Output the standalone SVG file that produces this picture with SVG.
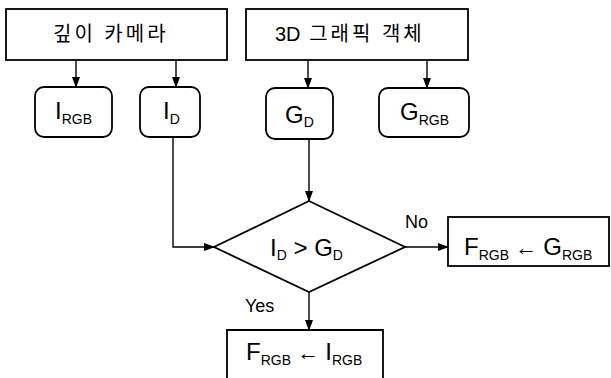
<svg xmlns="http://www.w3.org/2000/svg" width="611" height="378" viewBox="0 0 611 378">
<defs>
<marker id="ah" markerWidth="11" markerHeight="10" refX="10" refY="5" orient="auto" markerUnits="userSpaceOnUse">
<path d="M0,1 L11,5 L0,9 Z" fill="#000"/>
</marker>
</defs>
<style>
.box{fill:#fff;stroke:#000;stroke-width:1.8}
.ln{fill:none;stroke:#000;stroke-width:1.4;marker-end:url(#ah)}
.t{font-family:"Liberation Sans","Noto Sans CJK KR",Arial,sans-serif;font-size:24px;fill:#000}
.k{font-family:"Liberation Sans","Noto Sans CJK KR",sans-serif;font-size:20px;fill:#000;letter-spacing:3px}
.n{letter-spacing:0}
.s{font-size:14px}
.l{font-family:"Liberation Sans",Arial,sans-serif;font-size:18px;fill:#000}
</style>
<rect width="611" height="378" fill="#fff"/>
<g id="connectors">
<line class="ln" x1="76" y1="60" x2="76" y2="87"/>
<line class="ln" x1="176" y1="60" x2="176" y2="87"/>
<line class="ln" x1="308" y1="60" x2="308" y2="88"/>
<line class="ln" x1="427" y1="60" x2="427" y2="88"/>
<polyline class="ln" points="173,137 173,247 214,247"/>
<line class="ln" x1="309" y1="139" x2="309" y2="201"/>
<line class="ln" x1="405" y1="247" x2="448" y2="247"/>
<line class="ln" x1="309" y1="292" x2="309" y2="330"/>
</g>
<g id="depth-camera">
<rect class="box" x="6" y="9" width="221" height="51"/>
<text class="k" x="53" y="41">깊이 카메라</text>
</g>
<g id="graphic-object">
<rect class="box" x="246" y="9" width="222" height="51"/>
<text class="k" x="275" y="41"><tspan class="n">3D</tspan> 그래픽 객체</text>
</g>
<g id="i-rgb">
<rect class="box" x="35" y="87" width="77" height="50" rx="9"/>
<text class="t" x="55" y="119">I<tspan class="s" dy="5">RGB</tspan></text>
</g>
<g id="i-d">
<rect class="box" x="140" y="87" width="60" height="50" rx="9"/>
<text class="t" x="163" y="119">I<tspan class="s" dy="5">D</tspan></text>
</g>
<g id="g-d">
<rect class="box" x="266" y="88" width="67" height="51" rx="9"/>
<text class="t" x="285" y="123">G<tspan class="s" dy="4">D</tspan></text>
</g>
<g id="g-rgb">
<rect class="box" x="379" y="88" width="90" height="49" rx="9"/>
<text class="t" x="400" y="120">G<tspan class="s" dy="5">RGB</tspan></text>
</g>
<g id="decision">
<polygon class="box" points="309,201 405,247 309,292 214,247"/>
<text class="t" x="270" y="256">I<tspan class="s" dy="4">D</tspan><tspan dy="-4"> &gt; G</tspan><tspan class="s" dy="4">D</tspan></text>
</g>
<g id="labels">
<text class="l" x="405" y="228">No</text>
<text class="l" x="245" y="312">Yes</text>
</g>
<g id="f-g">
<rect class="box" x="448" y="217" width="161" height="49"/>
<text class="t" x="464" y="255">F<tspan class="s" dy="5">RGB</tspan><tspan dy="-5" font-size="22"> ← </tspan>G<tspan class="s" dy="5">RGB</tspan></text>
</g>
<g id="f-i">
<path class="box" d="M227,380 L227,330 L383,330 L383,380"/>
<text class="t" x="246" y="360">F<tspan class="s" dy="5">RGB</tspan><tspan dy="-5" font-size="22"> ← </tspan>I<tspan class="s" dy="5">RGB</tspan></text>
</g>
</svg>
